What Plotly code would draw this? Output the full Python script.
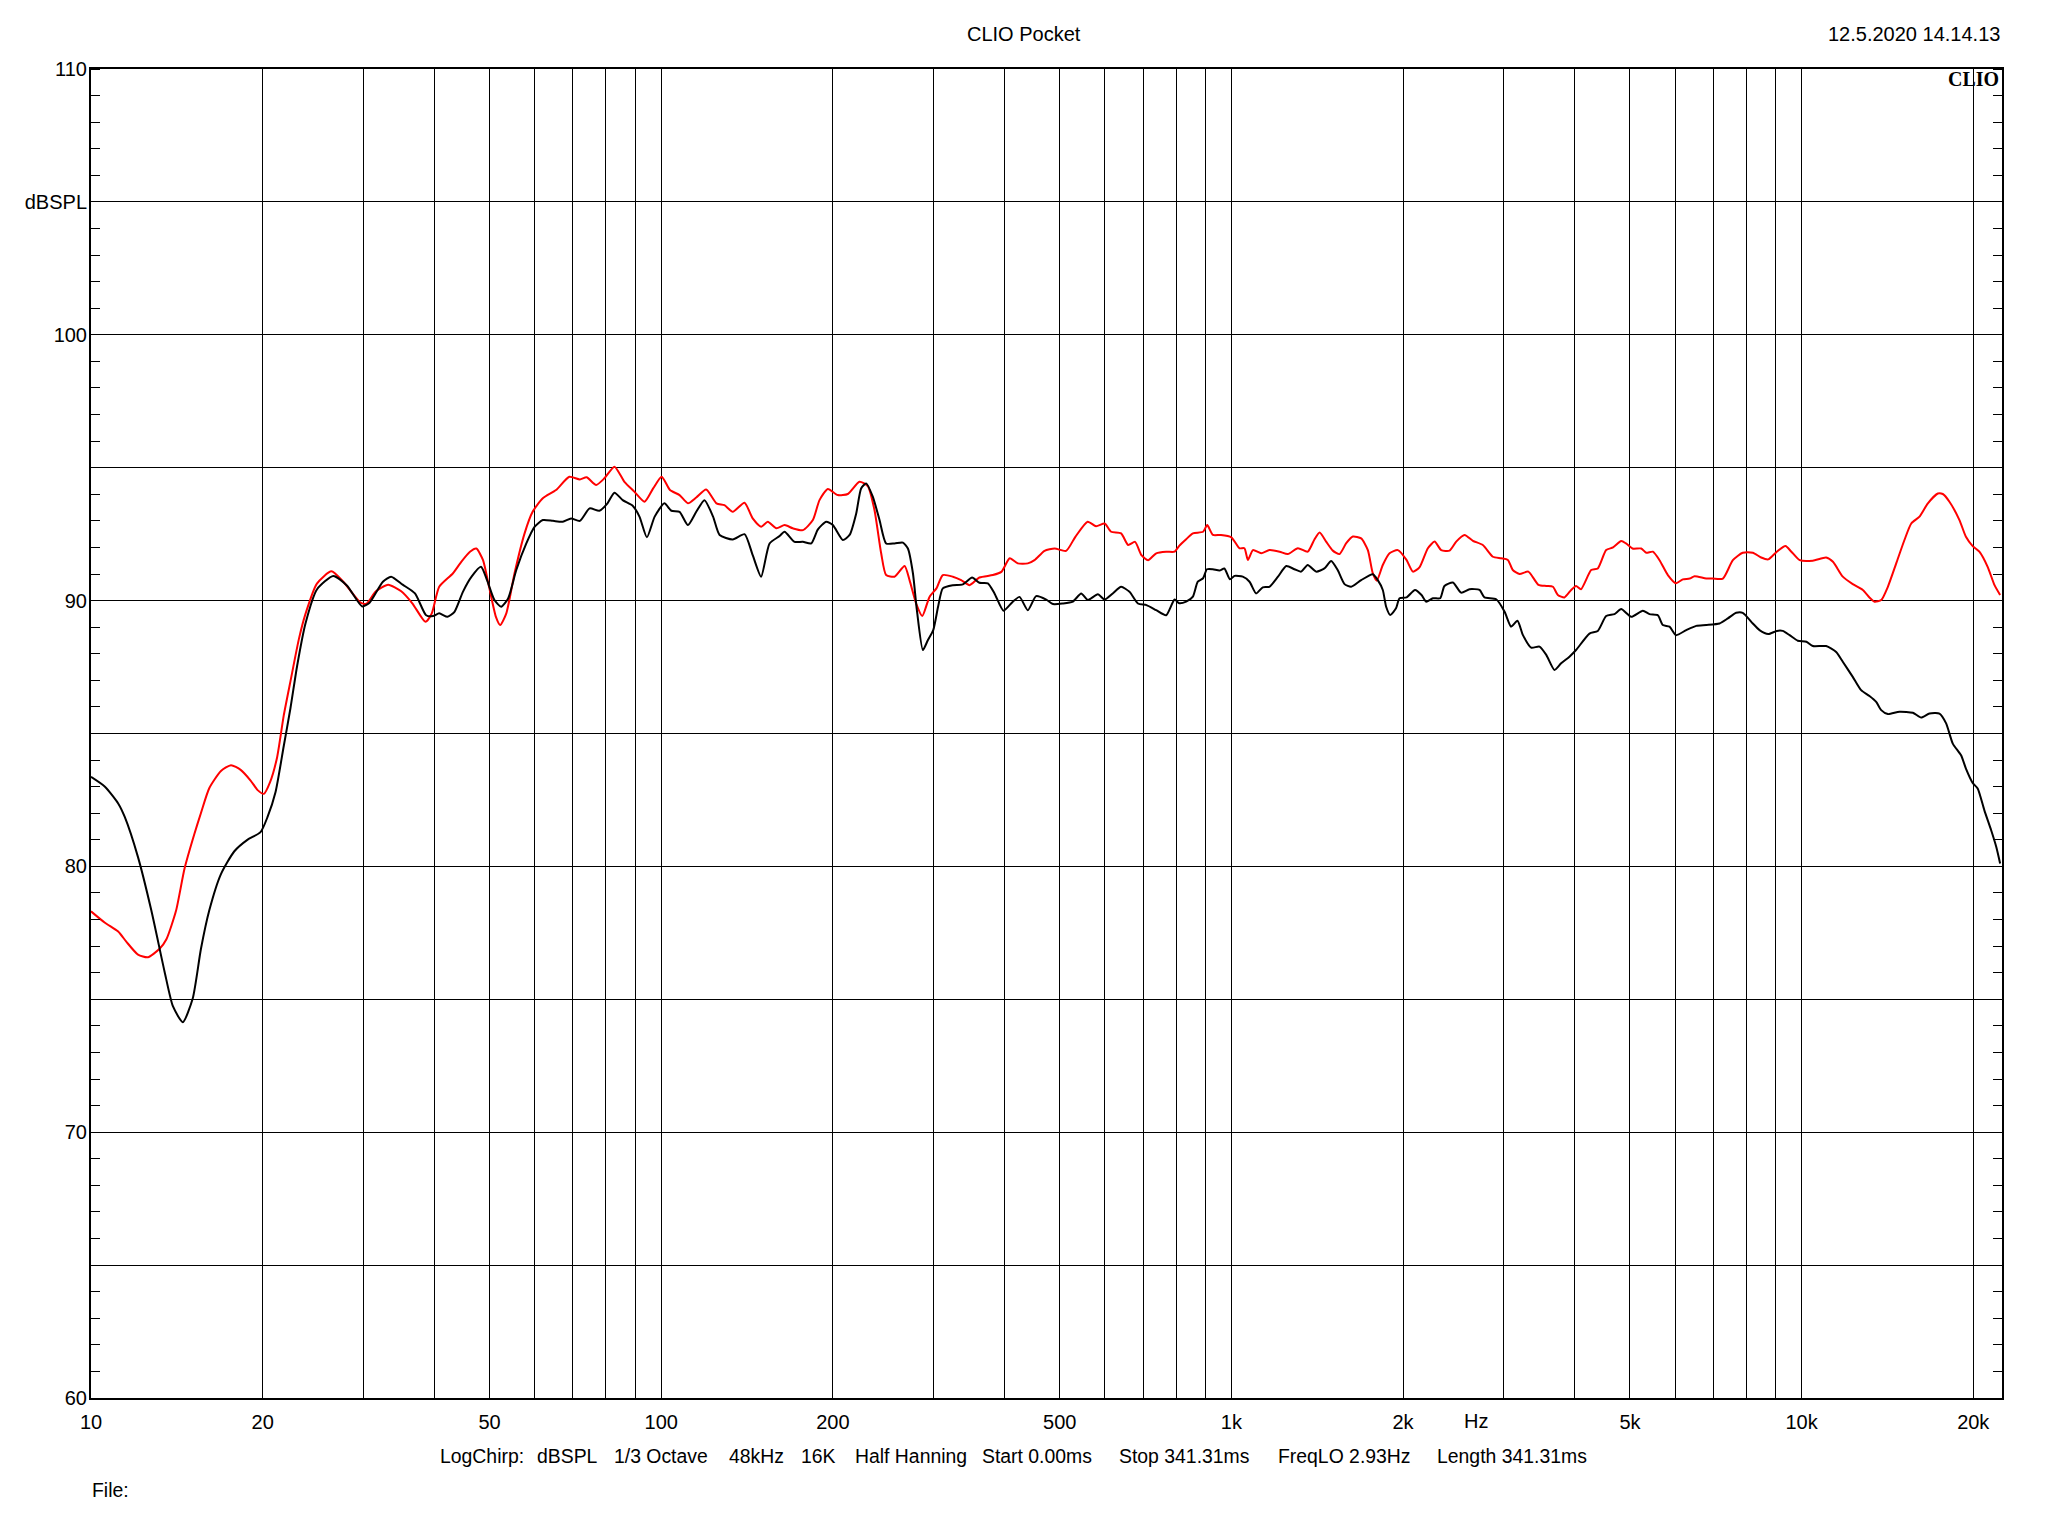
import math
import plotly.graph_objects as go

# ---------------- data ----------------
black_freq = [10, 10.58, 11.16, 11.46, 12.09, 12.76, 13.46, 13.92, 14.49, 15.08, 15.59, 16.12, 16.9, 17.84,
              18.8, 19.83, 20.4, 21.07, 21.78, 22.38, 22.99, 23.77, 24.9, 26.6, 28.1, 29.9, 30.8, 32.5, 33.6,
              35.2, 37.0, 38.7, 39.8, 40.8, 42.2, 43.4, 44.9, 46.5, 48.3, 49.5, 51.0, 52.4, 53.9, 55.7, 58.0,
              60.0, 62.0, 64.6, 67.2, 69.5, 72.0, 74.9, 77.9, 80.5, 82.8, 85.6, 89.2, 91.6, 94.4, 97.4, 101.3,
              104.2, 107.7, 111.4, 115.2, 119.1, 123.3, 126.6, 133.5, 140.0, 144.7, 149.7, 154.9,
              161.3, 164.6, 171.3, 177.2, 183.3, 188.3, 194.7, 200, 208.2, 214, 219.8, 224.2, 228.8, 235, 241.5,
              248, 256.6, 265.4, 270.8, 276.4, 280.8, 287.7, 293.5, 300, 305.9, 311.8, 324.7, 338, 351, 361.5,
              374, 384.2, 398.4, 413.7, 425, 439.5, 454.5, 473.4, 486.5, 506, 527, 545.2, 560.1, 583.1, 599.5,
              619.4, 640.6, 662.7, 685.6, 709.8, 738.2, 768.4, 795,
              810, 833, 856, 873, 892, 906, 928, 953, 972, 994, 1013, 1047, 1076, 1105, 1135, 1166, 1207, 1248,
              1290, 1325, 1361, 1408, 1456, 1496, 1536, 1579, 1622, 1689, 1770, 1806, 1843, 1868, 1899, 1944,
              1972, 2028, 2099, 2155, 2196, 2256, 2324, 2364, 2446, 2529, 2616, 2724, 2779, 2913, 3014, 3094,
              3175, 3244, 3355, 3470, 3568, 3687, 3787, 3916, 4022,
              4246, 4391, 4542, 4697, 4826, 5026, 5267, 5411, 5596, 5710, 5866, 6022, 6276, 6534, 6804, 7179,
              7425, 7677, 7884, 8212, 8437, 8740, 9048, 9266, 9526, 9847, 10195, 10463, 11043, 11498, 11809,
              12295, 12717, 13153, 13515, 13793, 14167, 14849, 15673, 16206, 16761, 17449, 17926, 18414, 19040,
              19418, 19954, 20360, 20920, 21500, 21950, 22293]
black_db = [83.37, 83.0, 82.37, 81.86, 80.35, 78.34, 76.04, 74.74, 74.14, 75.03, 76.9, 78.34, 79.71, 80.57,
            81.0, 81.29, 81.86, 82.8, 84.53, 85.96, 87.55, 89.13, 90.42, 90.93, 90.57, 89.78, 89.92, 90.71, 90.9,
            90.6, 90.27, 89.45, 89.42, 89.52, 89.39, 89.58, 90.33, 90.9, 91.27, 90.77, 90.02, 89.77, 90.08, 91.15, 92.15,
            92.78, 93.03, 93.0, 92.97, 93.09, 93.0, 93.47, 93.38, 93.66, 94.06, 93.78, 93.56, 93.16, 92.38, 93.16, 93.66,
            93.38, 93.34, 92.84, 93.34, 93.78, 93.16, 92.47, 92.3, 92.5, 91.71, 90.9, 92.15,
            92.43, 92.59, 92.21, 92.21, 92.15, 92.68, 92.97, 92.84, 92.28, 92.47, 93.28, 94.22, 94.41, 93.91, 93.03,
            92.15, 92.15, 92.18, 91.96, 91.02, 89.64, 88.14, 88.51, 88.89, 89.77, 90.46, 90.58, 90.61, 90.87, 90.67,
            90.65, 90.27, 89.62, 89.96, 90.14, 89.64, 90.17, 90.04, 89.87, 89.89, 89.96, 90.27, 90.02, 90.24, 90.04,
            90.27, 90.52, 90.33, 89.89, 89.83, 89.64, 89.45, 90.04,
            89.9, 89.96, 90.15, 90.71, 90.84, 91.18, 91.18, 91.13, 91.21, 90.8, 90.93, 90.9, 90.71, 90.27, 90.5, 90.52, 90.9, 91.3,
            91.18, 91.09, 91.34, 91.09, 91.21, 91.49, 91.15, 90.62, 90.52, 90.77, 90.99, 90.77, 90.4, 89.77, 89.46, 89.71,
            90.09, 90.12, 90.4, 90.21, 89.96, 90.09, 90.09, 90.55, 90.68, 90.3, 90.43, 90.4, 90.12, 90.05, 89.58, 89.02,
            89.24, 88.71, 88.23, 88.27, 87.95, 87.39, 87.64, 87.89, 88.14,
            88.76, 88.86, 89.42, 89.49, 89.68, 89.39, 89.62, 89.49, 89.45, 89.08, 89.02, 88.7, 88.89, 89.05, 89.08, 89.14,
            89.33, 89.54, 89.54, 89.14, 88.89, 88.74, 88.86, 88.86, 88.7, 88.49, 88.45, 88.29, 88.29, 88.07, 87.7,
            87.13, 86.63, 86.41, 86.19, 85.88, 85.73, 85.82, 85.78, 85.6, 85.75, 85.75, 85.38, 84.62, 84.18,
            83.68, 83.14, 82.93, 82.11, 81.36, 80.73, 80.11]

red_freq = [10, 10.58, 11.16, 11.54, 12.09, 12.58, 13.19, 13.56, 14.1, 14.59, 15.18, 15.59, 16.12, 16.9, 17.6,
            18.3, 19.05, 19.6, 20.1, 20.6, 21.2, 21.78, 22.38, 23.15, 23.77, 24.9, 26.4, 27.7, 29.7, 30.4, 31.6, 33.2,
            35.0, 36.6, 38.6, 39.6, 40.8, 43.1, 44.6, 46.2, 47.4, 48.7, 49.9, 51.3, 52.2, 53.5, 55.3, 57.6, 59.5,
            62.0, 65.4, 69.0, 72.0, 74.0, 76.9, 79.5, 82.8, 86.2, 89.7, 93.5, 96.8, 100.2, 103.6, 107.7, 111.4,
            115.2, 119.9, 125.0, 129.1, 133.5, 140.0, 144.7, 149.7, 153.8, 159.2,
            164.6, 170.1, 177.2, 184.5, 189.5, 196, 204, 212.5, 222.7, 230.3, 236.6, 243.1, 248, 256.6, 267.2, 272.6,
            280, 287, 295.5, 303.9, 311.8, 324.7, 335.8, 347.3, 361.5, 381.6, 395, 408.6, 422.1, 439.5, 451.5, 470.2,
            489.8, 513, 532.5, 559.6, 579, 599.5, 615.2, 640.6, 659, 677.7, 695.4, 714.2, 738.2, 768.4, 795,
            810, 833, 856, 892, 907, 928, 959, 1000, 1033, 1054, 1069, 1091, 1128, 1166, 1215, 1256, 1308, 1361,
            1399, 1428, 1466, 1506, 1547, 1590, 1633, 1689, 1735, 1770, 1799, 1843, 1894, 1958, 2028, 2081, 2137,
            2211, 2272, 2333, 2413, 2479, 2564, 2652, 2760, 2874, 2971, 3054, 3115, 3202, 3317, 3456, 3568, 3663,
            3737, 3838, 3943, 4022, 4103,
            4275, 4391, 4542, 4670, 4826, 4922, 5052, 5232, 5340, 5485, 5634, 5827, 6022, 6190, 6362, 6491, 6804,
            6990, 7277, 7576, 7884, 8212, 8494, 8740, 9048, 9370, 9595, 9923, 10463, 11043, 11350, 11809, 12295,
            12804, 13153, 13423, 13793, 14167, 14653, 15149, 15571, 16098, 16652, 17336, 17685, 18167, 18917,
            19418, 19954, 20500, 21198, 21795, 22293]
red_db = [78.31, 77.88, 77.55, 77.16, 76.68, 76.58, 76.9, 77.26, 78.34, 79.92, 81.22, 82.01, 82.94, 83.59, 83.81,
          83.63, 83.23, 82.87, 82.73, 83.16, 84.1, 85.68, 86.97, 88.55, 89.49, 90.64, 91.1, 90.71, 89.92, 89.88, 90.35, 90.6,
          90.35, 89.9, 89.2, 89.52, 90.52, 91.02, 91.46, 91.84, 91.96, 91.52, 90.52, 89.39, 89.08, 89.52, 91.02, 92.53, 93.34,
          93.85, 94.16, 94.66, 94.56, 94.64, 94.35, 94.6, 95.04, 94.47, 94.1, 93.72, 94.22, 94.66, 94.16, 93.97, 93.66,
          93.88, 94.18, 93.66, 93.59, 93.34, 93.68, 93.09, 92.78, 92.97, 92.72,
          92.84, 92.72, 92.65, 93.03, 93.78, 94.2, 93.97, 94.01, 94.47, 94.31, 93.41, 91.78, 90.96, 90.9, 91.3, 90.77,
          89.89, 89.42, 90.14, 90.46, 90.96, 90.9, 90.77, 90.58, 90.87, 90.96, 91.08, 91.59, 91.4, 91.4, 91.52, 91.87,
          91.96, 91.87, 92.4, 92.97, 92.8, 92.9, 92.59, 92.53, 92.09, 92.21, 91.71, 91.52, 91.78, 91.84, 91.84,
          92.06, 92.31, 92.53, 92.59, 92.84, 92.47, 92.47, 92.38, 91.97, 91.97, 91.53, 91.9, 91.78, 91.9, 91.84, 91.75, 91.97, 91.84,
          92.31, 92.56, 92.22, 91.88, 91.75, 92.16, 92.41, 92.34, 91.9, 91.03, 90.75, 91.34, 91.78, 91.9, 91.53, 91.09, 91.25,
          91.97, 92.22, 91.9, 91.88, 92.22, 92.47, 92.25, 92.09, 91.65, 91.59, 91.53, 91.15, 91.0, 91.09, 90.59, 90.55, 90.52,
          90.21, 90.12, 90.4, 90.55, 90.43,
          91.15, 91.21, 91.9, 92.0, 92.24, 92.15, 91.96, 91.96, 91.8, 91.84, 91.52, 90.96, 90.65, 90.8, 90.83, 90.92, 90.83,
          90.83, 90.83, 91.52, 91.8, 91.8, 91.62, 91.55, 91.84, 92.05, 91.84, 91.52, 91.5, 91.62, 91.46, 90.9, 90.62,
          90.4, 90.12, 89.96, 90.02, 90.52, 91.4, 92.28, 92.9, 93.16, 93.66, 94.03, 94.01, 93.72, 93.03,
          92.4, 92.05, 91.84, 91.27, 90.58, 90.21]

x_tick_vals = [10, 20, 30, 40, 50, 60, 70, 80, 90, 100, 200, 300, 400, 500, 600, 700, 800, 900,
               1000, 2000, 3000, 4000, 5000, 6000, 7000, 8000, 9000, 10000, 20000]
x_tick_text = ['10', '20', '', '', '50', '', '', '', '', '100', '200', '', '', '500', '', '', '', '',
               '1k', '2k', '', '', '5k', '', '', '', '', '10k', '20k']
y_tick_vals = [60, 65, 70, 75, 80, 85, 90, 95, 100, 105, 110]
y_tick_text = ['60', '', '70', '', '80', '', '90', '', '100', 'dBSPL', '110']

title_text = 'CLIO Pocket'
date_text = '12.5.2020 14.14.13'
brand_text = 'CLIO'
unit_text = 'Hz'
unit_freq = 2690
info_tokens = ['LogChirp:', 'dBSPL', '1/3 Octave', '48kHz', '16K', 'Half Hanning',
               'Start 0.00ms', 'Stop 341.31ms', 'FreqLO 2.93Hz', 'Length 341.31ms']
info_left_px = [437.5, 534.8, 611.6, 727, 799, 852.7, 979.5, 1117.4, 1275.9, 1435]
file_text = 'File:'

# ---------------- layout geometry ----------------
W, H = 2048, 1536
ML, MR, MT, MB = 91, 46, 69, 138
PW = W - ML - MR
PH = H - MT - MB
PX_PER_DECADE = 570.2
x_range = [1, 1 + PW / PX_PER_DECADE]


def px_x(px):
    return (px - ML) / PW


def px_y(py):
    return 1 - (py - MT) / PH


FONT = 'Liberation Sans, Arial, sans-serif'
FS = 20
FS_INFO = 19.4

fig = go.Figure()
fig.add_trace(go.Scatter(x=red_freq, y=red_db, mode='lines',
                         line=dict(color='#ff0000', width=2, shape='spline', smoothing=0.6),
                         showlegend=False, hoverinfo='skip'))
fig.add_trace(go.Scatter(x=black_freq, y=black_db, mode='lines', yaxis='y2',
                         line=dict(color='#000000', width=2, shape='spline', smoothing=0.6),
                         showlegend=False, hoverinfo='skip'))

fig.update_layout(
    width=W, height=H,
    margin=dict(l=ML, r=MR, t=MT, b=MB, pad=0),
    paper_bgcolor='white', plot_bgcolor='white',
    font=dict(family=FONT, size=FS, color='black'),
    showlegend=False,
    xaxis=dict(type='log', range=x_range, tickmode='array', tickvals=x_tick_vals, ticktext=x_tick_text,
               showgrid=True, gridcolor='black', gridwidth=1, zeroline=False,
               showline=True, linecolor='black', linewidth=2, mirror=True, ticks='',
               tickfont=dict(family=FONT, size=FS, color='black'), ticklabelstandoff=5),
    yaxis=dict(range=[60, 110], tickmode='array', tickvals=y_tick_vals, ticktext=y_tick_text,
               showgrid=True, gridcolor='black', gridwidth=1, zeroline=False,
               showline=True, linecolor='black', linewidth=2, mirror=True, ticks='',
               tickfont=dict(family=FONT, size=FS, color='black'), ticklabelstandoff=-2,
               minor=dict(tickmode='linear', tick0=60, dtick=1, ticks='inside', ticklen=9,
                          tickwidth=1, tickcolor='black', showgrid=False)),
    yaxis2=dict(range=[60, 110], overlaying='y', side='right', showticklabels=False,
                tickmode='array', tickvals=y_tick_vals, ticks='', showgrid=False, zeroline=False,
                showline=False,
                minor=dict(tickmode='linear', tick0=60, dtick=1, ticks='inside', ticklen=9,
                           tickwidth=1, tickcolor='black', showgrid=False)),
)

ann = []
ann.append(dict(text=title_text, xref='paper', yref='paper', x=px_x(1024), y=px_y(34),
                xanchor='center', yanchor='middle', showarrow=False, font=dict(family=FONT, size=FS)))
ann.append(dict(text=date_text, xref='paper', yref='paper', x=px_x(2002), y=px_y(34),
                xanchor='right', yanchor='middle', showarrow=False, font=dict(family=FONT, size=FS)))
ann.append(dict(text='<b>' + brand_text + '</b>', xref='paper', yref='paper', x=px_x(2001), y=px_y(79),
                xanchor='right', yanchor='middle', showarrow=False,
                font=dict(family='Liberation Serif, Times New Roman, serif', size=20, color='black')))
ann.append(dict(text=unit_text, xref='x', yref='paper', x=math.log10(unit_freq), y=px_y(1421),
                xanchor='center', yanchor='middle', showarrow=False, font=dict(family=FONT, size=FS)))
for tok, lx in zip(info_tokens, info_left_px):
    ann.append(dict(text=tok, xref='paper', yref='paper', x=px_x(lx), y=px_y(1456),
                    xanchor='left', yanchor='middle', showarrow=False, font=dict(family=FONT, size=FS_INFO)))
ann.append(dict(text=file_text, xref='paper', yref='paper', x=px_x(90), y=px_y(1490),
                xanchor='left', yanchor='middle', showarrow=False, font=dict(family=FONT, size=FS_INFO)))
fig.update_layout(annotations=ann)

fig.write_html("out.html", config={'displayModeBar': False},
               post_script="document.body.style.margin='0px';document.body.style.overflow='hidden';")
